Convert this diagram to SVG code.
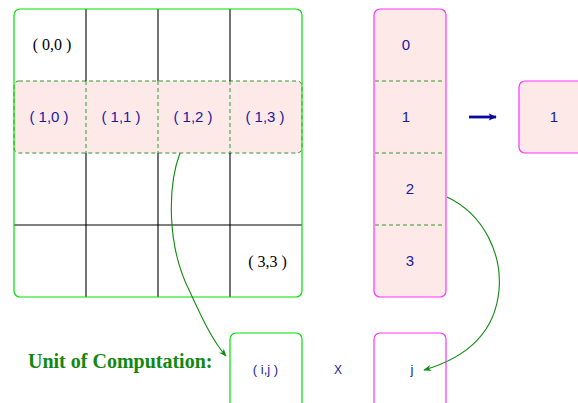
<svg xmlns="http://www.w3.org/2000/svg" width="578" height="403" viewBox="0 0 578 403">
<style>
.g{fill:none;stroke:#00e000;stroke-width:1.2}
.m{fill:#fde9e8;stroke:#ff33ff;stroke-width:1.2}
.ln{stroke:#000;stroke-width:1.1}
.dl{stroke:#2a9a2a;stroke-width:1;stroke-dasharray:4,3;fill:none}
.bt{font-family:"Liberation Sans",Arial,sans-serif;font-size:15px;fill:#1a1aa0;text-anchor:middle}
.st{font-family:"Liberation Serif","Times New Roman",serif;font-size:16px;fill:#000;text-anchor:middle}
.cv{fill:none;stroke:#108a10;stroke-width:1.1}
</style>
<defs>
<marker id="ah" viewBox="0 0 10 10" refX="9" refY="5" markerWidth="10" markerHeight="8" orient="auto" markerUnits="userSpaceOnUse"><path d="M0,1 L10,5 L0,9 L3,5 z" fill="#108a10"/></marker>
<marker id="bh" viewBox="0 0 10 10" refX="9" refY="5" markerWidth="11" markerHeight="8" orient="auto" markerUnits="userSpaceOnUse"><path d="M0,0.5 L10,5 L0,9.5 L2,5 z" fill="#0a0aa0"/></marker>
</defs>
<g id="matrix">
<rect x="14" y="9" width="288" height="288" rx="6" fill="#fff"/>
<rect x="14" y="81" width="288" height="72" rx="5" fill="#fde9e8" stroke="#2a9a2a" stroke-width="1" stroke-dasharray="4,3"/>
<line class="ln" x1="86" y1="9" x2="86" y2="81"/><line class="ln" x1="158" y1="9" x2="158" y2="81"/><line class="ln" x1="230" y1="9" x2="230" y2="81"/>
<line class="ln" x1="86" y1="153" x2="86" y2="297"/><line class="ln" x1="158" y1="153" x2="158" y2="297"/><line class="ln" x1="230" y1="153" x2="230" y2="297"/>
<line class="ln" x1="14" y1="225" x2="302" y2="225"/>
<line class="dl" x1="86" y1="81" x2="86" y2="153"/><line class="dl" x1="158" y1="81" x2="158" y2="153"/><line class="dl" x1="230" y1="81" x2="230" y2="153"/>
<rect class="g" x="14" y="9" width="288" height="288" rx="6"/>
<text class="st" x="52" y="50">( 0,0 )</text>
<text class="st" x="267.5" y="267">( 3,3 )</text>
<text class="bt" x="49" y="122">( 1,0 )</text>
<text class="bt" x="121" y="122">( 1,1 )</text>
<text class="bt" x="193" y="122">( 1,2 )</text>
<text class="bt" x="265" y="122">( 1,3 )</text>
</g>
<g id="vector">
<rect class="m" x="374" y="9" width="72" height="288" rx="6"/>
<line class="dl" x1="375" y1="81" x2="444" y2="81"/><line class="dl" x1="375" y1="153" x2="444" y2="153"/><line class="dl" x1="375" y1="225" x2="444" y2="225"/>
<text class="bt" x="406" y="50">0</text>
<text class="bt" x="406" y="122">1</text>
<text class="bt" x="410" y="194">2</text>
<text class="bt" x="410" y="266">3</text>
</g>
<g id="result">
<rect class="m" x="519" y="81" width="80" height="72" rx="6"/>
<text class="bt" x="554" y="122">1</text>
</g>
<g id="label">
<text x="28" y="368" style="font-family:'Liberation Serif','Times New Roman',serif;font-size:20px;font-weight:bold;fill:#118811">Unit of Computation:</text>
</g>
<g id="unit-matrix">
<rect x="230" y="333" width="72" height="80" rx="6" fill="#fff" stroke="#00e000" stroke-width="1.2"/>
<text class="bt" x="265.5" y="374" style="font-size:13px">( i,j )</text>
</g>
<g id="times"><text class="bt" x="338" y="374" style="font-size:12px">X</text></g>
<g id="unit-vector">
<rect x="374" y="333" width="72" height="80" rx="6" fill="#fff" stroke="#ff33ff" stroke-width="1.2"/>
<text class="bt" x="412" y="374" style="font-size:13px">j</text>
</g>
<g id="connectors">
<path class="cv" d="M180,153 C168,185 166,245 190,292 C202,318 212,340 226,356" marker-end="url(#ah)"/>
<path class="cv" d="M447,197 C485,215 502,255 499,290 C495,335 465,358 424,370" marker-end="url(#ah)"/>
<line x1="469" y1="117" x2="496" y2="117" stroke="#0a0aa0" stroke-width="2.8" marker-end="url(#bh)"/>
</g>
</svg>
